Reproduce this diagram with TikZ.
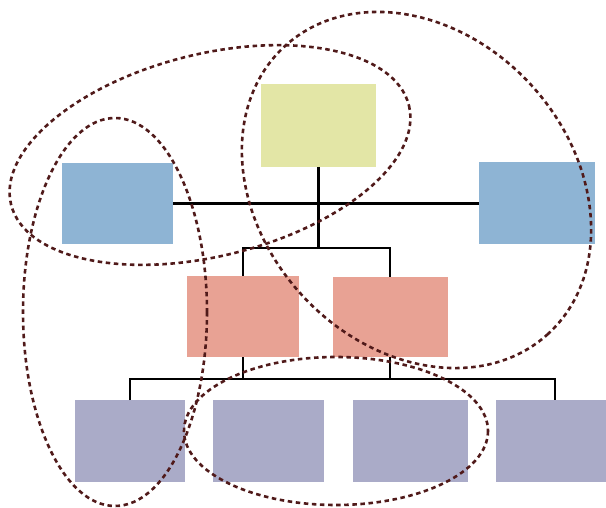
\documentclass[tikz,border=0pt]{standalone}
\definecolor{cyel}{RGB}{227,230,166}
\definecolor{cblue}{RGB}{142,180,212}
\definecolor{csalm}{RGB}{232,162,148}
\definecolor{cpurp}{RGB}{170,171,200}
\definecolor{cdash}{RGB}{80,26,26}
\tikzset{
  box/.style={draw=none,inner sep=0pt,outer sep=0pt},
  conn/.style={draw=black,line width=2.8pt},
  loop/.style={draw=cdash,line width=2.6pt,dash pattern=on 4.5pt off 3.6pt}
}
\begin{document}
\begin{tikzpicture}[x=1pt,y=-1pt]
\useasboundingbox (0,0) rectangle (606,508);
\clip (0,0) rectangle (606,508);
\fill[white] (0,0) rectangle (606,508);
% boxes
\node[box,fill=cyel,minimum width=115pt,minimum height=83pt] (top) at (318.5,125.5) {};
\node[box,fill=cblue,minimum width=111pt,minimum height=81pt] (lb) at (117.5,203.5) {};
\node[box,fill=cblue,minimum width=116pt,minimum height=82pt] (rb) at (537,203.5) {};
\node[box,fill=csalm,minimum width=112pt,minimum height=81pt] (rl) at (243,316.5) {};
\node[box,fill=csalm,minimum width=115pt,minimum height=80pt] (rr) at (390,317) {};
\node[box,fill=cpurp,minimum width=110pt,minimum height=82pt] (p1) at (130,441) {};
\node[box,fill=cpurp,minimum width=111pt,minimum height=82pt] (p2) at (268.5,441) {};
\node[box,fill=cpurp,minimum width=115pt,minimum height=82pt] (p3) at (410.5,441) {};
\node[box,fill=cpurp,minimum width=118pt,minimum height=82pt] (p4) at (555,441) {};
% junctions
\coordinate (j1) at (318.5,248);
\coordinate (jl) at (243,379);
\coordinate (jr) at (390,379);
% connectors
\draw[conn] (lb.east) -- (rb.west);
\draw[conn] (top.south) -- (j1);
\draw[conn] (rl.north) |- (j1) -| (rr.north);
\draw[conn] (rl.south) -- (jl);
\draw[conn] (rr.south) -- (jr);
\draw[conn] (p1.north) |- (jl) -- (jr) -| (p4.north);
% dashed loops
\draw[loop,rotate around={14:(210,155)}] (210,155) ellipse [x radius=205, y radius=101];
\draw[loop,rotate around={-47.5:(416.5,190)}] (416.5,190) ellipse [x radius=195, y radius=155.5];
\draw[loop] (115,312) ellipse [x radius=92, y radius=194];
\draw[loop] (336,431) ellipse [x radius=152, y radius=74];
\end{tikzpicture}
\end{document}
